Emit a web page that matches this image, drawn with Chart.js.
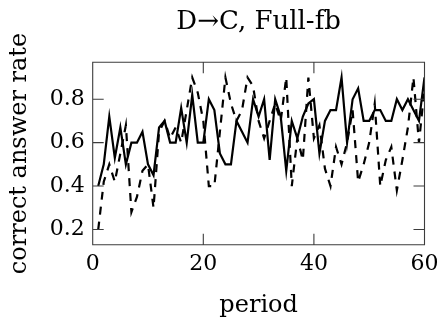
<!DOCTYPE html>
<html lang="en">
<head>
<meta charset="UTF-8" />
<title>D→C, Full-fb</title>
<script src="https://cdn.jsdelivr.net/npm/chart.js@4"></script>
<style>
  html, body { margin: 0; padding: 0; background: #fff; }
</style>
</head>
<body>
<canvas id="rateChart" width="445" height="324"></canvas>
<script>
// data
const periods = [1, 2, 3, 4, 5, 6, 7, 8, 9, 10,
  11, 12, 13, 14, 15, 16, 17, 18, 19, 20,
  21, 22, 23, 24, 25, 26, 27, 28, 29, 30,
  31, 32, 33, 34, 35, 36, 37, 38, 39, 40,
  41, 42, 43, 44, 45, 46, 47, 48, 49, 50,
  51, 52, 53, 54, 55, 56, 57, 58, 59, 60];

// solid line
const solidRates = [0.4, 0.5, 0.72, 0.53, 0.67, 0.5, 0.6, 0.6, 0.65, 0.5,
  0.45, 0.67, 0.7, 0.6, 0.6, 0.76, 0.6, 0.82, 0.6, 0.6,
  0.8, 0.75, 0.55, 0.5, 0.5, 0.7, 0.65, 0.6, 0.8, 0.72,
  0.8, 0.52, 0.8, 0.72, 0.47, 0.7, 0.62, 0.72, 0.78, 0.8,
  0.55, 0.7, 0.75, 0.75, 0.9, 0.6, 0.8, 0.85, 0.7, 0.7,
  0.75, 0.75, 0.7, 0.7, 0.8, 0.75, 0.8, 0.75, 0.7, 0.9];

// dashed line
const dashedRates = [0.2, 0.42, 0.5, 0.42, 0.55, 0.68, 0.28, 0.35, 0.47, 0.5,
  0.3, 0.65, 0.7, 0.62, 0.67, 0.6, 0.75, 0.9, 0.83, 0.7,
  0.4, 0.4, 0.65, 0.9, 0.78, 0.7, 0.75, 0.9, 0.86, 0.7,
  0.62, 0.7, 0.78, 0.7, 0.9, 0.4, 0.62, 0.52, 0.9, 0.62,
  0.68, 0.48, 0.4, 0.58, 0.5, 0.6, 0.75, 0.42, 0.5, 0.6,
  0.78, 0.4, 0.52, 0.58, 0.38, 0.52, 0.67, 0.9, 0.6, 0.85];

const xTicks = [0, 20, 40, 60];
const yTicks = [0.2, 0.4, 0.6, 0.8];

const serif = 'DejaVu Serif';

// box around the plot with inward ticks on all four sides (pgfplots look)
const frameTicks = {
  id: 'frameTicks',
  afterDatasetsDraw(chart) {
    const { ctx, chartArea: a, scales: { x, y } } = chart;
    const len = 11;
    ctx.save();
    ctx.strokeStyle = '#3c3c3c';
    ctx.lineWidth = 1.1;
    ctx.beginPath();
    xTicks.forEach(v => {
      const px = x.getPixelForValue(v);
      ctx.moveTo(px, a.bottom); ctx.lineTo(px, a.bottom - len);
      ctx.moveTo(px, a.top); ctx.lineTo(px, a.top + len);
    });
    yTicks.forEach(v => {
      const py = y.getPixelForValue(v);
      ctx.moveTo(a.left, py); ctx.lineTo(a.left + len, py);
      ctx.moveTo(a.right, py); ctx.lineTo(a.right - len, py);
    });
    ctx.rect(a.left, a.top, a.right - a.left, a.bottom - a.top);
    ctx.stroke();
    ctx.restore();
  }
};

const ctx = document.getElementById('rateChart').getContext('2d');
new Chart(ctx, {
  type: 'line',
  data: {
    datasets: [{
      label: 'solid',
      data: periods.map((p, i) => ({ x: p, y: solidRates[i] })),
      borderColor: '#000',
      borderWidth: 2.2,
      pointRadius: 0,
      tension: 0,
      fill: false
    }, {
      label: 'dashed',
      data: periods.map((p, i) => ({ x: p, y: dashedRates[i] })),
      borderColor: '#000',
      borderWidth: 2.2,
      borderDash: [8, 7],
      pointRadius: 0,
      tension: 0,
      fill: false
    }]
  },
  options: {
    responsive: false,
    animation: false,
    devicePixelRatio: 1,
    layout: { padding: { left: 0, right: 18, top: 0, bottom: 0 } },
    plugins: {
      legend: { display: false },
      tooltip: { enabled: false },
      title: {
        display: true,
        fullSize: false,
        text: 'D→C, Full-fb',
        color: '#000',
        font: { family: serif, size: 26, weight: 'normal' },
        padding: { top: 7, bottom: 24.1 }
      }
    },
    scales: {
      x: {
        type: 'linear',
        min: 0,
        max: 60,
        afterBuildTicks: s => { s.ticks = xTicks.map(v => ({ value: v })); },
        afterFit: s => { s.height = 79.3; },
        grid: { display: false, drawTicks: false },
        border: { display: false },
        ticks: {
          color: '#000',
          padding: 6.5,
          maxRotation: 0,
          font: { family: serif, size: 22 }
        },
        title: {
          display: true,
          text: 'period',
          color: '#000',
          font: { family: serif, size: 24 },
          padding: { top: 0, bottom: 4 }
        }
      },
      y: {
        min: 0.13,
        max: 0.97,
        afterBuildTicks: s => { s.ticks = yTicks.map(v => ({ value: v })); },
        afterFit: s => { s.width = 92.7; },
        grid: { display: false, drawTicks: false },
        border: { display: false },
        ticks: {
          color: '#000',
          padding: 8,
          font: { family: serif, size: 22 },
          callback: v => v.toFixed(1)
        },
        title: {
          display: true,
          text: 'correct answer rate',
          color: '#000',
          font: { family: serif, size: 24 },
          padding: { top: 5, bottom: 0 }
        }
      }
    }
  },
  plugins: [frameTicks]
});
</script>
</body>
</html>
